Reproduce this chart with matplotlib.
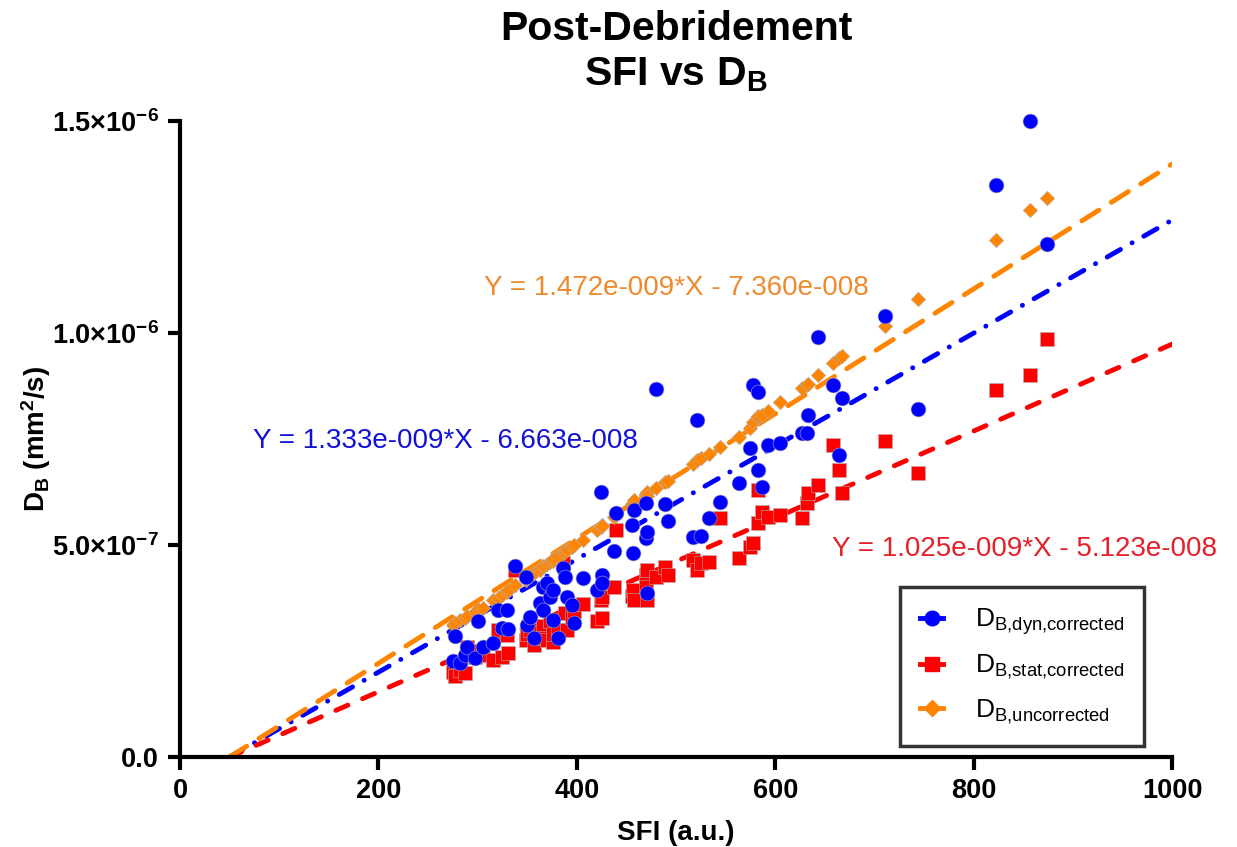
import numpy as np
import matplotlib
matplotlib.use("Agg")
import matplotlib.pyplot as plt
from matplotlib import font_manager
from matplotlib.lines import Line2D
from matplotlib.ticker import FuncFormatter

# SFI (a.u.) for each sample, shared by the three series
sfi = [275, 277, 282, 287, 289, 297, 300, 305, 316, 321,
       325, 330, 331, 338, 349, 350, 353, 357, 363, 366,
       366, 370, 373, 376, 376, 381, 386, 388, 390, 395,
       397, 406, 420, 424, 425, 425, 437, 440, 456, 457,
       458, 470, 470, 471, 471, 480, 489, 492, 517, 521,
       525, 533, 544, 563, 575, 578, 583, 583, 587, 593,
       605, 627, 632, 633, 643, 658, 664, 667, 711, 744,
       823, 857, 874]

# D_B values in units of 1e-6 mm^2/s
db_dyn = [0.226, 0.285, 0.222, 0.240, 0.259, 0.233, 0.321, 0.259, 0.269, 0.347,
          0.304, 0.347, 0.302, 0.450, 0.425, 0.311, 0.330, 0.281, 0.363, 0.401,
          0.347, 0.410, 0.377, 0.394, 0.323, 0.281, 0.446, 0.425, 0.377, 0.358,
          0.316, 0.422, 0.394, 0.625, 0.429, 0.410, 0.486, 0.576, 0.547, 0.481,
          0.582, 0.599, 0.516, 0.531, 0.387, 0.868, 0.597, 0.557, 0.520, 0.795,
          0.521, 0.564, 0.601, 0.646, 0.729, 0.877, 0.677, 0.861, 0.637, 0.736,
          0.741, 0.764, 0.764, 0.807, 0.991, 0.877, 0.712, 0.847, 1.040, 0.821,
          1.349, 1.500, 1.210]

db_stat = [0.200, 0.190, 0.205, 0.198, 0.260, 0.235, 0.250, 0.240, 0.228, 0.300,
           0.236, 0.288, 0.245, 0.441, 0.276, 0.290, 0.300, 0.265, 0.292, 0.310,
           0.280, 0.275, 0.320, 0.271, 0.290, 0.300, 0.458, 0.340, 0.300, 0.330,
           0.345, 0.360, 0.320, 0.370, 0.328, 0.378, 0.400, 0.535, 0.380, 0.394,
           0.370, 0.429, 0.401, 0.440, 0.370, 0.425, 0.448, 0.429, 0.465, 0.441,
           0.458, 0.460, 0.564, 0.469, 0.495, 0.505, 0.630, 0.552, 0.578, 0.566,
           0.571, 0.564, 0.599, 0.623, 0.642, 0.736, 0.677, 0.623, 0.745, 0.670,
           0.866, 0.901, 0.986]

db_uncorr = [0.312, 0.316, 0.322, 0.328, 0.332, 0.341, 0.348, 0.352, 0.370, 0.376,
             0.381, 0.388, 0.394, 0.405, 0.418, 0.422, 0.428, 0.433, 0.441, 0.447,
             0.450, 0.456, 0.460, 0.463, 0.468, 0.474, 0.480, 0.484, 0.487, 0.495,
             0.500, 0.512, 0.535, 0.542, 0.546, 0.545, 0.566, 0.571, 0.597, 0.598,
             0.605, 0.618, 0.620, 0.625, 0.615, 0.635, 0.648, 0.652, 0.690, 0.700,
             0.705, 0.715, 0.731, 0.755, 0.775, 0.790, 0.800, 0.805, 0.807, 0.815,
             0.837, 0.870, 0.877, 0.880, 0.901, 0.929, 0.941, 0.945, 1.017, 1.080,
             1.219, 1.290, 1.318]

# linear fits (slope, intercept) as printed on the chart
fit_dyn = (1.333e-9, -6.663e-8)
fit_stat = (1.025e-9, -5.123e-8)
fit_uncorr = (1.472e-9, -7.360e-8)
fit_range = [50, 1000]

blue = "#0000FF"
red = "#FF0000"
orange = "#FF8400"

names = {f.name for f in font_manager.fontManager.ttflist}
narrow = "Liberation Sans Narrow" if "Liberation Sans Narrow" in names else "Liberation Sans"

plt.rcParams["font.family"] = ["Liberation Sans", "DejaVu Sans"]
plt.rcParams["mathtext.fontset"] = "custom"
plt.rcParams["mathtext.rm"] = "Liberation Sans"
plt.rcParams["mathtext.it"] = "Liberation Sans:italic"
plt.rcParams["mathtext.bf"] = narrow + ":bold"
plt.rcParams["lines.scale_dashes"] = False

fig = plt.figure(figsize=(12.37, 8.47), dpi=100)
ax = fig.add_axes([0.1455, 0.1063, 0.802, 0.7508])

x_fit = np.array(fit_range, dtype=float)


def fit_line(fit):
    return fit[0] * x_fit + fit[1]


l_dyn, = ax.plot(x_fit, fit_line(fit_dyn), color=blue, lw=3.5,
                 dash_capstyle="round", zorder=2)
l_dyn.set_dashes((11, 9.6, 0.1, 9.6))
l_stat, = ax.plot(x_fit, fit_line(fit_stat), color=red, lw=3.5,
                  dash_capstyle="round", zorder=2)
l_stat.set_dashes((9.4, 11.5))
l_unc, = ax.plot(x_fit, fit_line(fit_uncorr), color=orange, lw=3.5,
                 dash_capstyle="round", zorder=2)
l_unc.set_dashes((14.5, 10.5))

scale = 1e-6
ax.scatter(sfi, np.array(db_stat) * scale, marker="s", s=100, color=red,
           edgecolors="#b0b0b0", linewidths=0.4, zorder=3, clip_on=False)
ax.scatter(sfi, np.array(db_uncorr) * scale, marker="D", s=55, color=orange,
           edgecolors="#b0b0b0", linewidths=0.4, zorder=3, clip_on=False)
ax.scatter(sfi, np.array(db_dyn) * scale, marker="o", s=115, color=blue,
           edgecolors="#b0b0b0", linewidths=0.4, zorder=4, clip_on=False)

# fit equations
ax.text(306, 1.106e-6, "Y = 1.472e-009*X - 7.360e-008", color="#EE8A2C",
        fontsize=20, va="center", ha="left")
ax.text(74, 0.745e-6, "Y = 1.333e-009*X - 6.663e-008", color="#1010D8",
        fontsize=20, va="center", ha="left")
ax.text(657, 0.491e-6, "Y = 1.025e-009*X - 5.123e-008", color="#E4202A",
        fontsize=20, va="center", ha="left")

ax.set_xlim(0, 1000)
ax.set_ylim(0, 1.5e-6)
ax.set_xticks([0, 200, 400, 600, 800, 1000])
ax.set_yticks([0, 5e-7, 1e-6, 1.5e-6])


def y_fmt(v, pos):
    if v == 0:
        return "0.0"
    exp = int(np.floor(np.log10(v)))
    mant = v / 10 ** exp
    return r"$\mathbf{%.1f{\times}10^{%d}}$" % (mant, exp)


ax.yaxis.set_major_formatter(FuncFormatter(y_fmt))
for lab in ax.get_xticklabels() + ax.get_yticklabels():
    lab.set_fontfamily(narrow)
    lab.set_fontweight("bold")
ax.tick_params(axis="both", direction="out", length=9, width=3,
               labelsize=19.5, pad=6)

for side in ["top", "right"]:
    ax.spines[side].set_visible(False)
for side in ["left", "bottom"]:
    ax.spines[side].set_linewidth(3)
    ax.spines[side].set_capstyle("projecting")

ax.set_xlabel("SFI (a.u.)", fontsize=20, fontweight="bold", family=narrow, labelpad=12)
ax.set_ylabel(r"$\mathbf{D_B\ (mm^2/s)}$", fontsize=20)
ax.yaxis.set_label_coords(-0.128, 0.5)
# title centred over the plot area, not the whole figure
fig.suptitle("Post-Debridement\n" + r"$\mathbf{SFI\ vs\ D_B}$", fontsize=29.5,
             fontweight="bold", family=narrow, x=0.5465, y=0.988, linespacing=1.25)

handles = [
    Line2D([], [], color=blue, marker="o", markersize=10.5, lw=3.5),
    Line2D([], [], color=red, marker="s", markersize=10, lw=3.5),
    Line2D([], [], color=orange, marker="D", markersize=8, lw=3.5),
]
labels = [r"$\mathrm{D_{B{,}dyn{,}corrected}}$",
          r"$\mathrm{D_{B{,}stat{,}corrected}}$",
          r"$\mathrm{D_{B{,}uncorrected}}$"]
leg = ax.legend(handles, labels, loc="lower right", bbox_to_anchor=(0.972, 0.018),
                fontsize=19, frameon=True, fancybox=False, handlelength=0.9,
                handletextpad=1.2, labelspacing=0.6, borderpad=0.75,
                borderaxespad=0)
leg.get_frame().set_edgecolor("black")
leg.get_frame().set_linewidth(2.5)

fig.savefig("out.png", dpi=100)
